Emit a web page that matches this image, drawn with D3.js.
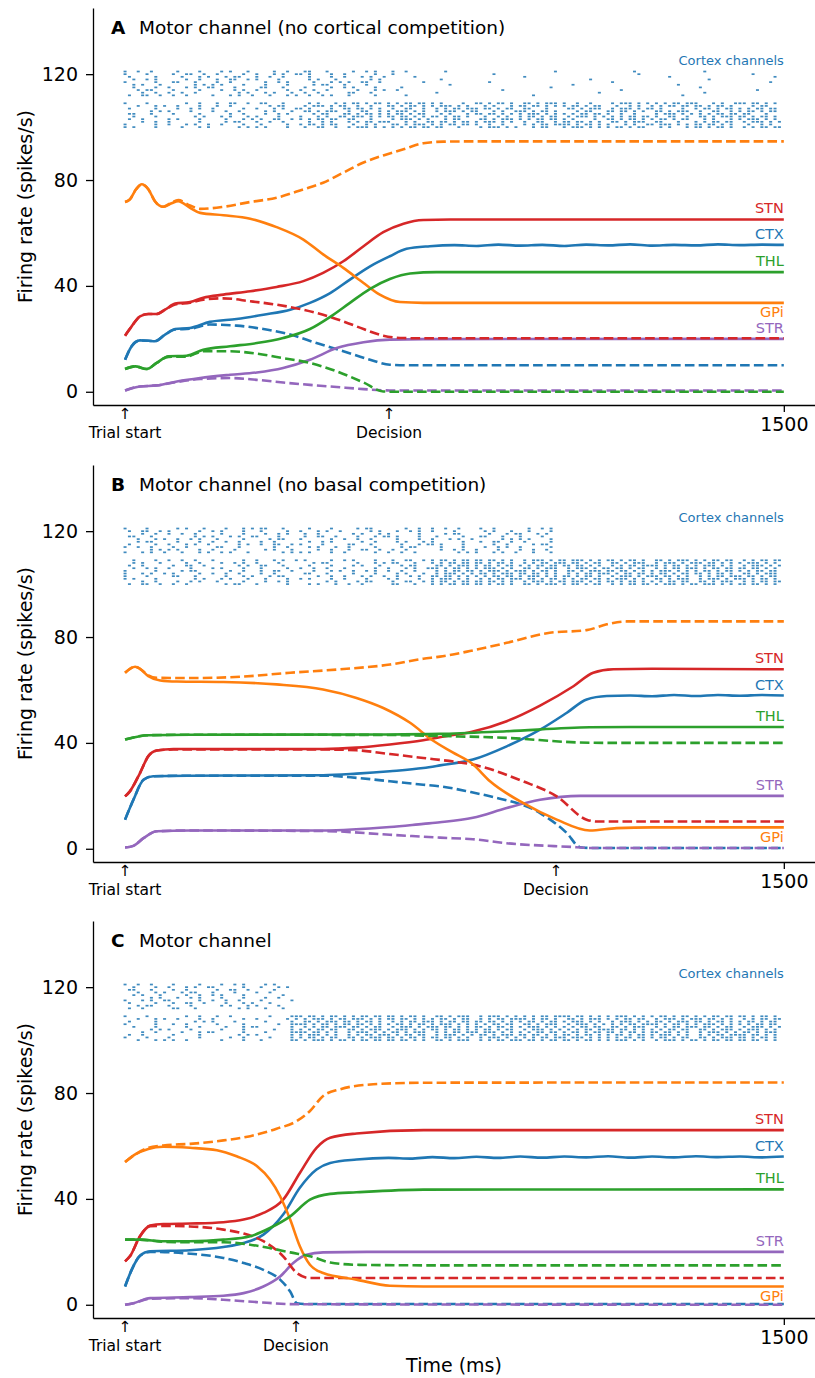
<!DOCTYPE html>
<meta charset="utf-8">
<style>
body { margin: 0; background: #fff; }
svg { font-family: "DejaVu Sans", sans-serif; }
.axis path, .axis line { stroke: #000; stroke-width: 1.3px; }
.axis text { font-size: 19px; fill: #000; font-family: "DejaVu Sans", sans-serif; }
.line { fill: none; stroke-width: 2.6px; }
.dashed { stroke-dasharray: 9.6,4.2; }
.spike { fill: #1f77b4; opacity: 0.85; }
</style>
<svg width="815" height="1378"></svg>
<script src="https://d3js.org/d3.v7.min.js"></script>
<script>
// ---- labels / ticks ----
var panelLetters = ["A", "B", "C"];
var panelTitles = ["Motor channel (no cortical competition)", "Motor channel (no basal competition)", "Motor channel"];
var decisionTimes = [601, 981, 389];
var yTicks = [0, 40, 80, 120];
var xTicks = [1500];
var hiRows = [121, 120, 119, 118, 117, 116, 115, 114, 113, 112];
var loRows = [109, 108, 107, 106, 105, 104, 103, 102, 101, 100];

// ---- panel A: [time ms, rate] ----
var A_CTX = [[0,12.1],[15,17.2],[34,19.4],[53,19.3],[68,19.1],[91,21.6],[114,23.7],[148,24.1],[193,26.4],[254,27.5],[315,29.1],[376,31],[421,33.6],[467,37.3],[512,42.4],[558,47.4],[603,51.2],[641,54],[694,55],[750,55.4],[800,55.1],[850,55.6],[900,55.2],[950,55.5],[1000,55.1],[1050,55.6],[1100,55.3],[1150,55.7],[1200,55.2],[1250,55.5],[1300,55.3],[1350,55.7],[1400,55.4],[1450,55.6],[1500,55.5]];
var A_CTX_d = [[0,12.1],[15,17.2],[34,19.4],[53,19.3],[68,19.1],[91,21.6],[114,23.5],[148,23.8],[193,25.4],[254,25],[315,23.7],[376,21.6],[436,18.4],[497,15.3],[558,12.1],[603,10.2],[650,10],[1500,10]];
var A_STR = [[0,0.5],[34,2],[72,2.4],[118,3.9],[171,5.2],[239,6.4],[300,7.3],[360,9],[421,12.1],[482,16.5],[543,18.7],[603,19.7],[679,19.9],[1500,20]];
var A_STR_d = [[0,0.5],[34,2],[72,2.4],[118,3.7],[171,4.8],[239,5.2],[300,4.5],[360,3.5],[421,2.6],[482,1.8],[543,1],[603,0.5],[1500,0.5]];
var A_STN = [[0,21.2],[15,24.7],[34,28.5],[53,29.4],[72,29.4],[91,31],[114,33.3],[148,33.9],[178,35.5],[224,36.7],[285,38],[345,39.6],[406,41.8],[451,44.9],[497,49.3],[543,55],[588,60.3],[634,63.5],[679,64.9],[740,65.1],[1500,65.1]];
var A_STN_d = [[0,21.2],[15,24.7],[34,28.5],[53,29.4],[72,29.4],[91,31],[114,33],[148,33.6],[178,34.8],[224,35.3],[285,34.2],[345,32.9],[406,31],[451,29.1],[497,26.6],[543,23.7],[588,21.2],[634,20.3],[680,20.2],[1500,20.2]];
var A_GPi = [[0,71.7],[11,72.7],[25,76.5],[38,78.4],[53,76.5],[68,72],[87,69.9],[106,71.2],[121,72],[148,69.5],[171,67.6],[224,66.7],[285,65.4],[345,62.2],[406,57.5],[451,51.9],[497,46.8],[543,41.1],[580,36.7],[626,33.9],[679,33.6],[1500,33.6]];
var A_GPi_d = [[0,71.7],[11,72.7],[25,76.5],[38,78.4],[53,76.5],[68,72],[87,69.9],[106,71.5],[121,72.4],[148,70.4],[171,69.1],[224,69.9],[285,71.7],[345,73.3],[406,76.5],[451,79],[497,82.8],[543,86.6],[588,89.3],[634,91.6],[679,93.9],[725,94.5],[785,94.6],[1500,94.6]];
var A_THL = [[0,8.6],[23,9.6],[49,8.6],[72,10.9],[99,13.4],[140,13.6],[178,15.9],[239,17.2],[300,18.4],[360,20.3],[421,23.7],[467,28.3],[512,33.6],[558,38.9],[603,42.6],[649,44.7],[709,45.2],[1500,45.2]];
var A_THL_d = [[0,8.6],[23,9.6],[49,8.6],[72,10.9],[99,13.2],[140,13.3],[178,15.3],[239,15.3],[300,14.4],[360,12.7],[421,10.9],[482,7.7],[543,3.5],[588,0.1],[620,0],[1500,0]];

// ---- panel B ----
var B_CTX = [[0,11],[19,18.5],[42,26.1],[64,27.4],[150,27.6],[451,27.8],[527,28.4],[603,29.3],[679,30.5],[717,31.5],[792,33.7],[869,38.7],[945,45],[1006,51.4],[1051,56.4],[1097,57.7],[1150,57.9],[1200,57.6],[1250,58.1],[1300,57.7],[1350,58.1],[1400,57.8],[1450,58.1],[1500,57.9]];
var B_CTX_d = [[0,11],[19,18.5],[42,26.1],[64,27.4],[150,27.6],[451,27.6],[527,26.8],[603,25.5],[679,24.2],[717,23.6],[785,21.5],[831,19.8],[945,13.5],[1006,5.9],[1036,0.6],[1060,0.3],[1500,0.3]];
var B_STR = [[0,0.5],[19,1.1],[42,4],[72,6.6],[150,6.9],[451,6.9],[603,8.2],[679,9.4],[717,10],[792,11.7],[869,15.4],[945,18.5],[1036,20],[1500,20]];
var B_STR_d = [[0,0.5],[19,1.1],[42,4],[72,6.6],[150,6.9],[451,6.7],[603,5.3],[717,4.2],[792,3.6],[869,2.1],[1028,0.6],[1060,0.3],[1500,0.3]];
var B_STN = [[0,19.8],[11,21.7],[34,28.6],[53,35],[72,37.1],[110,37.7],[451,37.7],[527,38.2],[603,39.4],[679,41],[730,42.5],[790,44.2],[869,48.2],[945,54.1],[1021,61.4],[1066,66.5],[1112,67.8],[1200,68],[1500,67.8]];
var B_STN_d = [[0,19.8],[11,21.7],[34,28.6],[53,35],[72,37.1],[110,37.5],[451,37.5],[527,37.2],[603,35.8],[679,34.3],[750,32.9],[792,31.8],[906,25.5],[983,19.8],[1051,11],[1074,10.3],[1500,10.3]];
var B_GPi = [[0,66.5],[23,68.8],[34,68],[53,65.2],[80,63.6],[118,63.2],[224,63],[345,62.1],[451,60.2],[527,57],[588,53.2],[649,47.6],[700,41],[745,36.5],[790,32.2],[831,25.5],[906,17.3],[983,11],[1058,6.9],[1119,7.8],[1200,8.1],[1500,8.1]];
var B_GPi_d = [[0,66.5],[23,68.8],[34,68],[53,65.5],[72,64.6],[148,64.5],[262,65],[376,66.5],[489,67.8],[603,69.6],[679,71.8],[717,72.6],[785,74.7],[869,77.8],[967,81.6],[1051,82.6],[1097,84.8],[1142,85.9],[1500,85.9]];
var B_THL = [[0,41.3],[53,42.9],[150,43.1],[600,43.2],[717,43.4],[869,44.4],[1058,45.9],[1150,46],[1500,46]];
var B_THL_d = [[0,41.3],[53,42.9],[150,43.1],[600,43],[717,42.6],[869,41.9],[1028,40.2],[1100,40],[1500,40]];

// ---- panel C ----
var C_CTX = [[0,6.9],[15,13.2],[34,18.5],[57,20.2],[148,20.6],[224,21.8],[270,23.3],[315,26.5],[360,34.1],[398,44.2],[436,51.1],[467,53.6],[527,54.9],[600,55.5],[650,55.2],[700,55.8],[750,55.4],[800,55.9],[850,55.5],[900,56],[950,55.6],[1000,56],[1050,55.7],[1100,56.1],[1150,55.6],[1200,56],[1250,55.7],[1300,56.1],[1350,55.8],[1400,56],[1450,55.7],[1500,56]];
var C_CTX_d = [[0,6.9],[15,13.2],[34,18.5],[57,20],[148,19.3],[224,17.7],[270,15.8],[315,13.2],[353,9.5],[376,5],[391,0.6],[410,0.3],[1500,0.3]];
var C_STR = [[0,0],[19,0.6],[57,2.5],[148,2.9],[224,3.4],[270,4.4],[315,6.9],[353,10.7],[383,15.8],[413,18.9],[451,19.8],[550,20],[1500,20]];
var C_STR_d = [[0,0],[19,0.6],[57,2.3],[148,2.5],[224,1.9],[300,1],[391,0.2],[1500,0]];
var C_STN = [[0,16.4],[11,18.3],[34,25.9],[57,29.9],[87,30.5],[148,30.7],[224,31.2],[270,32.2],[315,34.7],[360,39.7],[398,49.8],[436,59.3],[467,63.1],[527,64.7],[680,66],[1500,66]];
var C_STN_d = [[0,16.4],[11,18.3],[34,25.9],[57,29.7],[87,29.8],[148,29.6],[224,28.4],[270,26.9],[315,24],[360,18.3],[391,12],[421,10.1],[1500,10.1]];
var C_GPi = [[0,53.9],[23,56.8],[53,58.9],[87,59.7],[148,59.3],[209,58.4],[254,56.1],[300,52.4],[330,47.3],[353,41],[376,32.2],[398,22.1],[421,15.1],[451,12],[527,9.5],[603,7.2],[680,6.9],[1500,6.9]];
var C_GPi_d = [[0,53.9],[23,56.8],[53,59.3],[87,60.2],[148,60.8],[224,62.1],[285,63.7],[345,66.5],[391,69.4],[421,73.2],[451,78.9],[489,81.4],[565,83.3],[680,83.9],[1500,84]];
var C_THL = [[0,24.6],[34,24.6],[87,24],[148,24],[224,24.6],[285,25.9],[330,29],[376,33.4],[421,39.7],[467,41.9],[527,42.5],[680,43.5],[1500,43.6]];
var C_THL_d = [[0,24.6],[34,24.6],[87,23.8],[148,23.6],[224,23.6],[285,22.7],[330,21.4],[376,19.8],[421,18.3],[467,16],[527,15.1],[680,14.9],[1500,14.9]];

// ---- cortex spikes: one char per 10 ms bin, "-" = spike ----
var A_spikesHi = [
"-..-..-... ..-....-.. ..-.-...-. ....-..-.. .--...-... ..-..-.-.. .-..-..... ...-...... .......... ........-. .......... ......-... .......... ..-....... ..........",
"-....-.... .-..--..-. .-.....-.. -...-.-..- -.-....-.. -......-.. .-........ .......... ....-..... .......... .......... .......-.. .......... .......... ...-......",
".-.....-.. ...-...-.- ...-.--... -..-..-... ..-....-.. -...-.-..- ......-... .......... .......... .-........ .......... .......... ....-..... .......... ........-.",
"..-..-.-.. ....-..-.. .-..--..-. -....-.... ..-.-...-. ......-.-. .......... ..-....... .......... .......... ......-... .......... .......... ...-...... ..........",
"-......-.. .--...-... .-..-..... ..-..-.-.. ...-...-.- .-..--..-. ........-. .......... ...-...... .......... .......... .-........ .......... .......... .......-..",
"..-.-...-. ......-.-. -.-....-.. ..-....-.. ...-.--... -....-.... .......... ....-..... .......... .......... ..-....... .......... ......-... .......... ..........",
"..-....-.. -...-.-..- -....-.... .--...-... .-.....-.. -.-....-.. ...-...... .......... .......... .......-.. .......... .......... .......... .-........ ..........",
"...-.--... .-.....-.. ..-..-.-.. -......-.. -..-..-... ...-...-.- ..-....... .......... ......-... .......... .......... ...-...... .......... .......... ....-.....",
"....-..-.. -..-..-... ......-.-. ..-.-...-. .-..-..... .--...-... .......... .-........ .......... .......... ........-. .......... .......... ..-....... ..........",
".-..--..-. .-..-..... -...-.-..- ...-...-.- ..-..-.-.. .-.....-.. ....-..... .......... .......... ...-...... .......... .......... .......-.. .......... .........."
];
var A_spikesLo = [
"-....-.... ....-..-.. .-..--..-. .--...-... ..-.-...-. -.--.-.--. -.-.--.--. -.-....-.. --.-.--.-. .--.-.---. -..-..-... .-.---.-.- .-.-.--.-- -...-.-..- --.--.-.-.",
"...-...-.- ..-....-.. .-..-..... ...-.--... .-.---.-.- -..-..-... --.-.--.-. -.---.-.-. ..-.-...-. --.--.-.-. -.--.-.--. ..-..-.-.. -.-.--.--. --.-.--.-. ...-.--...",
".-.....-.. ..-..-.-.. -......-.. -...-.-..- -.-....-.. --.--.-.-. .-..--..-. .-.-.--.-- -.--.-.--. .--...-... .--.-.---. .-.---.-.- -.-....-.. -.--.-.--. -.-.--.--.",
"......-.-. -....-.... -..-..-... ..-.-...-. .--.-.---. .-..--..-. -.---.-.-. .-.---.-.- -...-.-..- --.-.--.-. ...-.--... --.--.-.-. .--.-.---. .-..--..-. -.--.-.--.",
".--...-... .-.....-.. ....-..-.. ..-..-.-.. ...-.--... --.-.--.-. -.--.-.--. ..-.-...-. --.--.-.-. -.---.-.-. -.-.--.--. -..-..-... .-.---.-.- .-.-.--.-- .--...-...",
"..-....-.. ......-.-. ..-.-...-. -....-.... -...-.-..- -.---.-.-. --.--.-.-. --.-.--.-. ..-..-.-.. -.--.-.--. .-.---.-.- .-.-.--.-- .-..--..-. .--.-.---. --.-.--.-.",
".-..-..... -.-....-.. ...-...-.- .-..--..-. -.-.--.--. .--...-... .-.---.-.- ...-.--... .--.-.---. -.-.--.--. -.-....-.. --.-.--.-. -.--.-.--. ..-.-...-. -.---.-.-.",
"....-..-.. -......-.. ...-.--... -..-..-... ..-..-.-.. .-.-.--.-- -...-.-..- -.--.-.--. -.---.-.-. .-..--..-. --.--.-.-. .--.-.---. .--...-... -.-.--.--. .-.---.-.-",
"-......-.. -...-.-..- ..-....-.. .-.....-.. -.--.-.--. ..-..-.-.. .--.-.---. -.-.--.--. -..-..-... .-.-.--.-- --.-.--.-. -...-.-..- -.---.-.-. --.--.-.-. ..-..-.-..",
"-.-....-.. ...-...-.- ......-.-. -.-....-.. .-..--..-. .-.---.-.- .-.-.--.-- .--...-... .-.---.-.- ...-.--... -.---.-.-. -.--.-.--. ..-.-...-. --.-.--.-. .-.-.--.--"
];
var B_spikesHi = [
"-....-.... ..-.-...-. ...-...-.- .--...-... ..-....-.. ...-.--... ....-..-.. -..-..-... .-..-..... ..-..-.-..",
".-..--..-. -......-.. -.-....-.. .-.....-.. -...-.-..- ......-.-. ..-..-.-.. -....-.... ..-.-...-. ..-....-..",
"....-..-.. -..-..-... ..-....-.. ..-..-.-.. .-..-..... ..-.-...-. -......-.. ...-.--... ...-...-.- -...-.-...",
".--...-... ......-.-. -...-.-..- -....-.... .-..--..-. ...-...-.- -.-....-.. .-.....-.. .--...-... -....-....",
"...-...-.- ..-..-.-.. .-.....-.. ...-.--... -......-.. -..-..-... ..-....-.. -...-.-..- ......-.-. -.-....-..",
"...-.--... ..-....-.. -..-..-... .-..-..... ..-..-.-.. ....-..-.. ..-.-...-. -......-.. .-..--..-. .-.....-..",
".-.....-.. -...-.-..- ......-.-. .-..--..-. -....-.... .--...-... ...-...-.- -.-....-.. ....-..-.. ...-.--...",
"-..-..-... .-..-..... .--...-... ....-..-.. ..-.-...-. .-.....-.. ...-.--... ..-....-.. ..-..-.-.. -......-..",
"......-.-. -.-....-.. -....-.... ..-.-...-. ....-..-.. .-..--..-. .-..-..... ..-..-.-.. -....-.... -..-..-...",
"-...-.-..- ...-...-.- ..-.-...-. ......-.-. -.-....-.. -......-.. -..-..-... ......-.-. -...-.-..- ...-...-.."
];
var B_spikesLo = [
"..-....-.. -..-..-... -......-.. -...-.-..- .-.....-.. -.-....-.. .-..--..-. -.--.-.--. --.--.-.-. .-.---.-.- -.---.-.-. --.-.--.-. .--.-.---. -.-.--.--. .-.-.--.--",
"..-.-...-. ....-..-.. ..-..-.-.. -....-.... ...-.--... ...-...-.- .--...-... -.-.--.--. --.-.--.-. .-.-.--.-- -.--.-.--. .--.-.---. .-.---.-.- --.--.-.-. -.---.-.-.",
".-..-..... .-..--..-. ......-.-. .--...-... ..-....-.. ..-.-...-. ...-.--... .--.-.---. -.--.-.--. -.-.--.--. --.--.-.-. .-.-.--.-- --.-.--.-. -.---.-.-. .-.---.-.-",
"..-..-.-.. -....-.... -.-....-.. .-.....-.. -..-..-... -......-.. -...-.-..- --.-.--.-. -.---.-.-. .--.-.---. .-.---.-.- -.--.-.--. .-.-.--.-- -.-.--.--. --.--.-.-.",
"-......-.. ...-.--... ....-..-.. .-..--..-. ...-...-.- ..-..-.-.. -..-..-... .-.-.--.-- .-.---.-.- --.-.--.-. .--.-.---. --.--.-.-. -.---.-.-. -.--.-.--. -.-.--.--.",
"-...-.-..- .-.....-.. -..-..-... .-..-..... .--...-... ..-....-.. ..-.-...-. .-.---.-.- .--.-.---. --.--.-.-. .-.-.--.-- -.-.--.--. -.--.-.--. --.-.--.-. .--.-.---.",
"-....-.... .--...-... ...-...-.- ...-.--... ....-..-.. -...-.-..- ..-..-.-.. --.--.-.-. -.-.--.--. -.---.-.-. --.-.--.-. .-.---.-.- --.--.-.-. .-.-.--.-- -.--.-.--.",
"-.-....-.. ......-.-. ..-.-...-. ..-....-.. -.-....-.. -....-.... -.-....-.. -.---.-.-. .-.-.--.-- -.--.-.--. -.-.--.--. -.---.-.-. .--.-.---. .-.---.-.- --.-.--.-.",
"....-..-.. ..-..-.-.. .-.....-.. ..-..-.-.. ......-.-. ...-.--... .-..--..-. -.--.-.--. --.--.-.-. .-.---.-.- -.---.-.-. --.-.--.-. -.-.--.--. .--.-.---. .-.-.--.--",
".-..--..-. .-..-..... ...-.--... -......-.. ..-.-...-. .-..-..... .--...-... -.-.--.--. --.-.--.-. .--.-.---. -.--.-.--. .-.-.--.-- .-.---.-.- -.---.-.-. --.--.-.-."
];
var C_spikesHi = [
"-..-..-... .-.....-.. ..-..-.-.. ..-.-.....",
"..-....-.. -...-.-..- -......-.. .-...-.-..",
".--...-... .-..-..... .-..--..-. ....-.....",
"...-...-.- ...-.--... -....-.... -..-......",
"..-.-...-. ....-..-.. -.-....-.. ......-...",
"......-.-. ..-..-.-.. ..-....-.. ..-..-....",
"-...-.-..- -......-.. -..-..-... .-......-.",
".-.....-.. .-..--..-. ...-...-.- ...-......",
"...-.--... -....-.... ..-.-...-. -....-....",
".-..-..... .--...-... ......-.-. ..-...-..."
];
var C_spikesLo = [
"-....-.... ....-..-.. .-..-..... ...-....-- -.--.-.--. -.-.--.--. --.-.--.-. .--.-.---. .-.---.-.- .-.-.--.-- --.--.-.-. -.---.-.-. -.--.-.--. -.-.--.--. --.-.--.-.",
"...-...-.- ..-....-.. -......-.. -......-.- .-.---.-.- -.---.-.-. --.--.-.-. -.--.-.--. .-.-.--.-- --.-.--.-. .--.-.---. -.-.--.--. .-.---.-.- --.--.-.-. .-.-.--.--",
".-.....-.. ......-.-. -....-.... ..-.....-. .--.-.---. --.-.--.-. .-.-.--.-- -.-.--.--. --.--.-.-. -.--.-.--. -.---.-.-. .-.---.-.- .--.-.---. --.-.--.-. -.--.-.--.",
"-......-.. .-..-..... .-.....-.. .....-..-- --.-.--.-. --.--.-.-. -.--.-.--. -.---.-.-. -.-.--.--. .--.-.---. .-.---.-.- .-.-.--.-- --.-.--.-. -.---.-.-. -.-.--.--.",
"..-....-.. ....-..-.. ...-...-.- -.......-. .-.-.--.-- -.--.-.--. .-.---.-.- --.--.-.-. --.-.--.-. -.---.-.-. -.-.--.--. .--.-.---. .-.-.--.-- -.--.-.--. .-.---.-.-",
"......-.-. -....-.... ..-....-.. ....-...-. -.-.--.--. .--.-.---. -.---.-.-. --.-.--.-. -.--.-.--. .-.---.-.- .-.-.--.-- --.--.-.-. -.-.--.--. .--.-.---. -.---.-.-.",
"....-..-.. ...-...-.- -......-.. ..-.....-- --.--.-.-. .-.---.-.- .--.-.---. .-.-.--.-- -.---.-.-. -.-.--.--. -.--.-.--. --.-.--.-. --.--.-.-. .-.---.-.- .--.-.---.",
".-..-..... .-.....-.. ......-.-. -.......-. -.---.-.-. .-.-.--.-- -.-.--.--. .-.---.-.- .--.-.---. --.--.-.-. --.-.--.-. -.--.-.--. -.---.-.-. .-.-.--.-- --.--.-.-.",
"-....-.... -......-.. ....-..-.. ...-....-. -.--.-.--. .--.-.---. --.-.--.-. --.--.-.-. .-.---.-.- .-.-.--.-- -.---.-.-. -.-.--.--. -.--.-.--. .--.-.---. --.-.--.-.",
"...-...-.- .-..-..... ..-....-.. .-......-- .-.---.-.- -.-.--.--. --.--.-.-. .--.-.---. .-.-.--.-- -.--.-.--. --.-.--.-. -.---.-.-. .-.---.-.- -.-.--.--. --.--.-.-."
];

var colors = {CTX: "#1f77b4", STR: "#9467bd", STN: "#d62728", GPi: "#ff7f0e", THL: "#2ca02c"};

var panels = [
  {series: [["CTX", A_CTX, A_CTX_d], ["STR", A_STR, A_STR_d], ["STN", A_STN, A_STN_d], ["GPi", A_GPi, A_GPi_d], ["THL", A_THL, A_THL_d]], hi: A_spikesHi, lo: A_spikesLo},
  {series: [["CTX", B_CTX, B_CTX_d], ["STR", B_STR, B_STR_d], ["STN", B_STN, B_STN_d], ["GPi", B_GPi, B_GPi_d], ["THL", B_THL, B_THL_d]], hi: B_spikesHi, lo: B_spikesLo},
  {series: [["CTX", C_CTX, C_CTX_d], ["STR", C_STR, C_STR_d], ["STN", C_STN, C_STN_d], ["GPi", C_GPi, C_GPi_d], ["THL", C_THL, C_THL_d]], hi: C_spikesHi, lo: C_spikesLo}
];

var svg = d3.select("svg"),
    tops = [8, 465, 921],
    height = 397;

var x = d3.scaleLinear().domain([-73, 1571]).range([93, 815]);
var y = d3.scaleLinear().domain([-5, 145]).range([height, 0]);

var line = d3.line()
    .x(function(d) { return x(d[0]); })
    .y(function(d) { return y(d[1]); })
    .curve(d3.curveMonotoneX);

function spikeTimes(row) {
  var s = row.replace(/ /g, ""), out = [];
  for (var i = 0; i < s.length; i++) if (s[i] === "-") out.push(i * 10);
  return out;
}

panels.forEach(function(p, k) {
  var g = svg.append("g").attr("transform", "translate(0," + tops[k] + ")");

  // raster
  [[p.hi, hiRows], [p.lo, loRows]].forEach(function(grp) {
    grp[0].forEach(function(row, r) {
      g.selectAll(null)
        .data(spikeTimes(row))
        .enter().append("rect")
          .attr("class", "spike")
          .attr("x", function(t) { return x(t) - 1.5; })
          .attr("y", y(grp[1][r]) - 0.85)
          .attr("width", 3)
          .attr("height", 1.7);
    });
  });

  g.append("text")
      .attr("x", x(1500)).attr("y", y(123.6))
      .attr("text-anchor", "end")
      .attr("font-size", 13)
      .attr("fill", "#1f77b4")
      .text("Cortex channels");

  // rate curves
  p.series.forEach(function(s) {
    g.append("path").datum(s[1])
        .attr("class", "line")
        .attr("stroke", colors[s[0]])
        .attr("d", line);
    g.append("path").datum(s[2])
        .attr("class", "line dashed")
        .attr("stroke", colors[s[0]])
        .attr("d", line);
  });

  p.series.forEach(function(s) {
    var last = s[1][s[1].length - 1];
    g.append("text")
        .attr("x", x(1500))
        .attr("y", y(last[1]) + (s[0] === "GPi" ? 14.5 : -6))
        .attr("text-anchor", "end")
        .attr("font-size", 14.5)
        .attr("fill", colors[s[0]])
        .text(s[0]);
  });

  // axes
  g.append("g")
      .attr("class", "axis")
      .attr("transform", "translate(93,0)")
      .call(d3.axisLeft(y).tickValues(yTicks).tickSize(7).tickPadding(8).tickSizeOuter(0));

  g.append("g")
      .attr("class", "axis")
      .attr("transform", "translate(0," + height + ")")
      .call(d3.axisBottom(x).tickValues(xTicks).tickFormat(d3.format("d"))
        .tickSize(7).tickPadding(6).tickSizeOuter(0));

  [[0, "Trial start"], [decisionTimes[k], "Decision"]].forEach(function(ev) {
    g.append("text")
        .attr("x", x(ev[0])).attr("y", height + 14)
        .attr("text-anchor", "middle").attr("font-size", 15.5)
        .text("\u2191");
    g.append("text")
        .attr("x", x(ev[0])).attr("y", height + 33)
        .attr("text-anchor", "middle").attr("font-size", 15.5)
        .text(ev[1]);
  });

  // title
  var title = g.append("text").attr("y", 26).attr("font-size", 18.5);
  title.append("tspan").attr("x", 111).attr("font-weight", "bold").text(panelLetters[k]);
  title.append("tspan").attr("x", 139).text(panelTitles[k]);

  g.append("text")
      .attr("transform", "translate(32," + (height / 2) + ") rotate(-90)")
      .attr("text-anchor", "middle")
      .attr("font-size", 19)
      .text("Firing rate (spikes/s)");
});

svg.append("text")
    .attr("x", 454).attr("y", tops[2] + height + 54)
    .attr("text-anchor", "middle")
    .attr("font-size", 19)
    .text("Time (ms)");
</script>
